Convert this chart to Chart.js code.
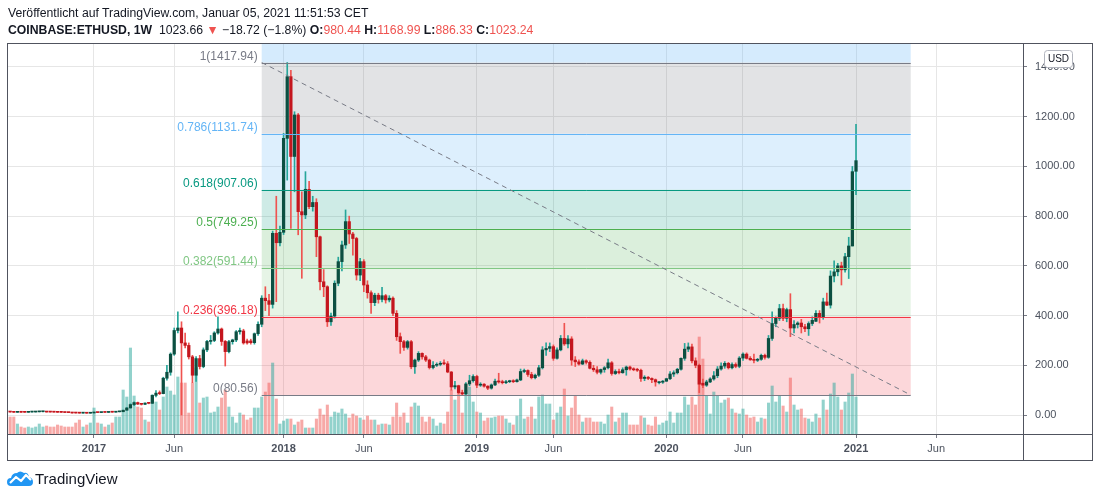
<!DOCTYPE html>
<html>
<head>
<meta charset="utf-8">
<script src="https://cdn.jsdelivr.net/npm/chart.js@4.4.0/dist/chart.umd.min.js"></script>
<style>
html,body{margin:0;padding:0;background:#fff;width:1100px;height:498px;overflow:hidden;font-family:"Liberation Sans",Arial,sans-serif;}
#wrap{position:relative;width:1100px;height:498px;}
#c{position:absolute;left:0;top:0;}
.hdr{position:absolute;left:8px;white-space:nowrap;color:#131722;font-size:13px;line-height:16px;}
#l1{top:5px;}
#l2{top:22px;}
.b{font-weight:bold;}
.r{color:#ef5350;}
#logo{position:absolute;left:7px;top:470px;display:flex;align-items:center;}
#logo span{font-size:15px;color:#131722;margin-left:2px;}
</style>
</head>
<body>
<div id="wrap">
<canvas id="c" width="1100" height="498"></canvas>
<div class="hdr" id="l1">Veröffentlicht auf TradingView.com, Januar 05, 2021 11:51:53 CET</div>
<div class="hdr" id="l2"><span class="b">COINBASE:ETHUSD, 1W</span>&nbsp; 1023.66 <span class="r">▼</span> −18.72 (−1.8%) <span class="b">O:</span><span class="r">980.44</span> <span class="b">H:</span><span class="r">1168.99</span> <span class="b">L:</span><span class="r">886.33</span> <span class="b">C:</span><span class="r">1023.24</span></div>
<div id="logo"><svg width="26" height="17" viewBox="0 0 26 17"><path d="M4 16 Q0 16 0 12 Q0 8 4 8 Q5 3 10 3 Q13 0 17 3 Q21 2 22 7 Q26 8 26 12 Q26 16 22 16 Z" fill="#2196f3"/><polyline points="3,13 9,7 14,11 19,5 24,10" stroke="#fff" stroke-width="2.2" fill="none" stroke-linejoin="round"/></svg><span>TradingView</span></div>
</div>
<script>
// ---------- DATA (weekly candles, COINBASE:ETHUSD) ----------
const firstWeek = '2016-07-18';
const opens = [
 14.3,12.6,11.9,10.9,11.2,11.0,10.9,11.9,12.0,12.7,
 13.2,13.3,11.9,11.8,11.4,10.9,10.7,10.0,9.6,8.1,
 7.9,7.5,7.8,7.2,8.2,10.3,9.8,10.6,10.5,11.4,
 11.3,12.8,13.1,19.3,28.5,42,50,44,43,48,
 47,79,90,86,148,172,245,340,350,290,
 280,234,160,227,195,262,296,300,330,346,
 296,255,295,302,335,338,298,298,291,327,
 365,470,460,445,731,693,735,1113,1361,1040,
 1207,818,805,908,838,855,717,536,516,375,
 398,530,617,684,778,728,710,563,617,523,
 492,452,482,465,480,463,470,409,315,295,
 272,295,194,221,248,234,221,191,200,204,
 208,206,173,113,118,90,85,125,138,155,
 120,124,116,108,121,136,133,130,134,137,
 134,141,175,179,163,150,160,190,262,268,
 275,228,262,308,286,306,221,214,205,218,
 212,188,182,172,183,190,210,167,175,170,
 182,193,185,182,180,147,152,147,142,130,
 132,136,146,165,170,184,228,265,274,218,
 200,128,120,133,145,158,185,197,208,190,
 203,196,229,245,228,222,220,224,240,232,
 308,368,389,428,389,424,350,364,370,355,
 347,368,377,409,395,455,442,559,576,600,
 584,637,680,980.44];
const highs = [
 14.8,13.0,12.2,11.6,11.4,11.3,12.1,12.2,12.9,13.5,
 13.6,13.4,12.1,12.0,11.6,11.1,10.9,10.2,9.8,8.6,
 8.5,8.1,7.9,8.4,11.2,10.6,10.8,10.8,11.6,11.9,
 13.2,13.6,19.9,30.0,45,53,52,46,49,51,
 81,98,97,152,200,250,350,415,375,330,
 290,240,235,240,270,300,320,335,395,350,
 300,300,305,340,350,345,305,305,330,375,
 480,516,485,740,880,760,1133,1418,1387,1220,
 1213,898,979,940,880,870,720,585,520,410,
 540,635,700,825,800,735,715,630,625,540,
 500,490,490,514,485,480,475,420,330,300,
 300,300,225,255,250,240,225,215,210,215,
 222,215,175,135,120,100,130,160,162,160,
 130,126,118,125,145,168,140,140,140,142,
 145,185,185,182,172,165,200,275,290,290,
 282,270,320,369,320,315,235,222,225,222,
 218,200,195,185,195,225,215,182,185,190,
 197,197,190,188,185,158,155,150,145,134,
 139,148,175,178,188,230,288,290,285,230,
 205,145,140,150,175,195,210,215,212,210,
 210,235,250,250,235,245,228,245,245,320,
 415,395,445,446,430,488,380,375,385,365,
 375,395,420,420,470,490,580,620,610,615,
 650,715,1000,1168.99];
const lows = [
 11.9,11.5,10.3,10.6,10.8,10.6,10.8,11.6,11.8,12.5,
 12.9,11.6,11.6,11.2,10.6,10.5,9.7,9.3,7.6,7.7,
 7.3,7.4,6.9,7.1,8.0,9.6,9.7,10.3,10.4,11.1,
 11.2,12.5,13.0,18.8,27.5,38,42,40,42,45,
 46,73,82,85,140,160,240,330,0.1,270,
 225,130,135,185,190,255,285,295,325,280,
 197,250,285,295,325,285,285,285,285,320,
 355,420,400,430,456,680,726,945,751,898,
 725,550,790,830,820,637,503,476,356,360,
 390,520,580,670,690,643,543,540,496,470,
 409,440,450,455,450,455,400,300,248,260,
 265,186,167,215,225,215,185,185,195,198,
 202,170,100,105,85,80.56,82,118,132,110,
 115,112,102,104,118,128,125,126,130,130,
 132,138,170,155,145,145,155,185,240,255,
 220,225,258,280,270,200,195,200,203,205,
 185,175,165,165,172,185,160,163,165,168,
 160,180,178,175,135,138,142,130,116,125,
 127,135,142,155,165,180,220,255,210,190,
 90,110,115,130,140,150,180,188,185,185,
 190,190,220,225,220,210,215,220,225,228,
 300,355,380,380,375,315,330,350,330,335,
 320,360,375,370,385,440,430,535,560,523,
 575,549,680,886.33];
const closes = [
 12.6,11.9,10.9,11.2,11.0,10.9,11.9,12.0,12.7,13.2,
 13.3,11.9,11.8,11.4,10.9,10.7,10.0,9.6,8.1,7.9,
 7.5,7.8,7.2,8.2,10.3,9.8,10.6,10.5,11.4,11.3,
 12.8,13.1,19.3,28.5,42,50,44,43,48,47,
 79,88,86,148,172,245,340,350,290,280,
 234,160,227,195,262,296,300,330,346,296,
 255,295,302,335,340,290,290,291,327,365,
 470,460,445,731,693,735,1113,1361,1040,1207,
 818,805,908,838,855,717,536,516,375,398,
 530,617,684,778,728,710,563,617,523,492,
 452,482,465,480,463,470,409,315,295,272,
 295,194,221,248,234,221,191,200,204,208,
 206,173,113,118,90,85,125,138,155,120,
 124,116,108,121,136,133,130,134,137,134,
 141,175,179,163,150,160,190,262,268,275,
 228,262,308,286,306,221,214,205,218,212,
 188,182,172,183,190,210,167,175,170,182,
 193,185,182,180,147,152,147,142,133,132,
 136,146,165,170,184,228,265,274,218,200,
 124,120,133,145,158,185,197,208,190,203,
 196,229,245,228,222,220,224,240,232,308,
 368,389,428,389,424,350,364,370,355,347,
 368,381,409,395,455,442,559,576,600,584,
 637,680,979,1023.24];
// relative weekly volume (arbitrary units)
const volumes = [
 14,17,17,10,7,6,7,6,7,10,
 7,8,7,7,9,8,7,7,7,11,
 14,7,9,11,26,11,10,7,9,11,
 17,17,44,37,86,38,27,26,14,12,
 39,32,24,37,47,43,39,57,51,51,
 21,51,66,31,36,37,21,22,27,36,
 44,27,17,11,21,19,14,16,26,26,
 37,42,51,71,35,10,13,15,15,9,
 12,14,6,6,6,15,25,19,29,17,
 22,21,25,20,16,20,18,16,14,18,
 14,14,9,10,10,9,17,31,17,21,
 11,27,31,28,17,12,17,15,8,11,
 10,22,44,34,41,21,44,47,32,22,
 21,13,16,16,17,18,18,15,11,9,
 18,35,15,17,27,15,37,39,30,30,
 14,21,27,45,18,26,38,19,12,16,
 16,12,12,12,10,19,27,12,16,21,
 21,9,9,9,18,16,9,8,17,9,
 11,13,22,11,21,21,37,29,37,29,
 97,75,38,20,42,38,31,34,36,25,
 21,20,25,19,16,17,12,16,15,31,
 48,32,38,28,22,56,29,24,25,16,
 15,12,20,16,34,24,40,51,37,24,
 32,41,60,37];
const tickDates  = ['2017-01-02','2017-06-05','2018-01-01','2018-06-04','2019-01-07','2019-06-03','2020-01-06','2020-06-01','2021-01-04','2021-06-07'];
const tickLabels = ['2017','Jun','2018','Jun','2019','Jun','2020','Jun','2021','Jun'];
const priceTicks = [0,200,400,600,800,1000,1200,1400];
// Fibonacci retracement drawing
const fibLevels = [1, 0.786, 0.618, 0.5, 0.382, 0.236, 0];
const fibPrices = [1417.94, 1131.74, 907.06, 749.25, 591.44, 396.18, 80.56];
const fibExtPrice = 2244.43; // 1.618 level (outside the view)
const fibStartDate = '2017-11-20';
const fibEndDate = '2021-04-19';

// ---------- header fit ----------
(function(){
  const l1 = document.getElementById('l1'), l2 = document.getElementById('l2');
  const w = l2.getBoundingClientRect().width;
  const fs = 13 * 526 / w;
  l1.style.fontSize = fs + 'px'; l2.style.fontSize = fs + 'px';
})();

// ---------- helpers ----------
const WEEK = 7*24*3600*1000, BASE = Date.UTC(2017,0,2);
function weekIdx(s){const [y,m,d]=s.split('-').map(Number);return (Date.UTC(y,m-1,d)-BASE)/WEEK;}
const w0 = weekIdx(firstWeek);
const xs = opens.map((_,i)=>w0+i);
const tickWeeks = tickDates.map(weekIdx);
const fibX0 = weekIdx(fibStartDate), fibX1 = weekIdx(fibEndDate);
const fibColors = ['#787b86','#64b5f6','#089981','#4caf50','#81c784','#f23645','#787b86'];
const fibFills  = ['rgba(100,181,246,0.27)','rgba(120,123,134,0.21)','rgba(100,181,246,0.22)','rgba(8,153,129,0.2)','rgba(76,175,80,0.2)','rgba(129,199,132,0.2)','rgba(242,54,69,0.2)'];
const up = i => closes[i] >= opens[i];

const FONT = '"Liberation Sans", Arial, sans-serif';

const fibPlugin = {
  id:'fib',
  beforeDatasetsDraw(chart){
    const {ctx, chartArea:a, scales:{x,y}} = chart;
    const x0 = x.getPixelForValue(fibX0), x1 = x.getPixelForValue(fibX1);
    const bounds = [fibExtPrice].concat(fibPrices);
    ctx.save();
    ctx.beginPath(); ctx.rect(a.left,a.top,a.right-a.left,a.bottom-a.top); ctx.clip();
    for(let i=0;i<bounds.length-1;i++){
      const ya = y.getPixelForValue(bounds[i]), yb = y.getPixelForValue(bounds[i+1]);
      ctx.fillStyle = fibFills[i]; ctx.fillRect(x0, ya, x1-x0, yb-ya);
    }
    ctx.restore();
  },
  afterDatasetsDraw(chart){
    const {ctx, chartArea:a, scales:{x,y}} = chart;
    const x0 = x.getPixelForValue(fibX0), x1 = x.getPixelForValue(fibX1);
    ctx.save();
    ctx.beginPath(); ctx.rect(a.left,a.top,a.right-a.left,a.bottom-a.top); ctx.clip();
    ctx.lineWidth = 1;
    fibPrices.forEach((p,i)=>{
      const yy = Math.round(y.getPixelForValue(p))+0.5;
      ctx.strokeStyle = fibColors[i];
      ctx.beginPath(); ctx.moveTo(x0,yy); ctx.lineTo(x1,yy); ctx.stroke();
      ctx.fillStyle = fibColors[i];
      ctx.font = '12px '+FONT;
      ctx.textAlign = 'right'; ctx.textBaseline = 'bottom';
      ctx.fillText(fibLevels[i]+'('+p.toFixed(2)+')', x0-4, yy-1);
    });
    ctx.strokeStyle = '#787b86'; ctx.setLineDash([5,4]);
    ctx.beginPath();
    ctx.moveTo(x0, y.getPixelForValue(fibPrices[0]));
    ctx.lineTo(x1, y.getPixelForValue(fibPrices[fibPrices.length-1]));
    ctx.stroke();
    ctx.restore();
  },
  afterDraw(chart){
    const ctx = chart.ctx;
    ctx.save();
    ctx.strokeStyle = '#50535e'; ctx.lineWidth = 1;
    ctx.strokeRect(7.5, 43.5, 1085, 417);
    ctx.beginPath();
    ctx.moveTo(1023.5, 43.5); ctx.lineTo(1023.5, 460.5);
    ctx.moveTo(7.5, 434.5); ctx.lineTo(1092.5, 434.5);
    ctx.stroke();
    // currency badge
    ctx.fillStyle = '#fff'; ctx.strokeStyle = '#b2b5be';
    ctx.beginPath(); ctx.roundRect(1044.5, 50.5, 28, 17, 3); ctx.fill(); ctx.stroke();
    ctx.fillStyle = '#131722'; ctx.font = '10px '+FONT;
    ctx.textAlign = 'center'; ctx.textBaseline = 'middle';
    ctx.fillText('USD', 1058.5, 59.5);
    ctx.restore();
  }
};

new Chart(document.getElementById('c'), {
  type:'bar',
  data:{
    datasets:[
      { label:'body', order:1, grouped:false, barThickness:2.6, minBarLength:1,
        data: xs.map((x,i)=>({x, y:[opens[i], closes[i]]})),
        backgroundColor: xs.map((_,i)=> up(i) ? '#0c4f41' : '#c4161e'),
        borderWidth:0, yAxisID:'y' },
      { label:'wick', order:2, grouped:false, barThickness:1,
        data: xs.map((x,i)=>({x, y:[lows[i], highs[i]]})),
        backgroundColor: xs.map((_,i)=> up(i) ? '#26a69a' : '#ef5350'),
        borderWidth:0, yAxisID:'y' },
      { label:'volume', order:3, grouped:false, barThickness:2.4,
        data: xs.map((x,i)=>({x, y:volumes[i]})),
        backgroundColor: xs.map((_,i)=> up(i) ? 'rgba(38,166,154,0.5)' : 'rgba(239,83,80,0.5)'),
        borderWidth:0, yAxisID:'yv' }
    ]
  },
  options:{
    responsive:false, animation:false, devicePixelRatio:1,
    layout:{padding:{left:7, top:44, right:7, bottom:37}},
    plugins:{legend:{display:false}, tooltip:{enabled:false}},
    scales:{
      x:{ type:'linear', min:-23.86, max:254.8, offset:false,
          grid:{offset:false, color:'#e6e6e6', tickLength:4, tickColor:'#787b86'},
          border:{display:false},
          afterBuildTicks(s){ s.ticks = tickWeeks.map(v=>({value:v})); },
          afterFit(s){ s.height = 27; },
          ticks:{ autoSkip:false, maxRotation:0, padding:4, color:'#4c525e',
            callback:(v,i)=>tickLabels[i],
            font:(c)=>({family:FONT, size:11, weight: /^\d/.test(tickLabels[c.index]||'') ? 'bold':'normal'}) } },
      y:{ type:'linear', position:'right', min:-76.4, max:1492.5,
          grid:{color:'#e6e6e6', tickLength:4, tickColor:'#787b86'},
          border:{display:false},
          afterBuildTicks(s){ s.ticks = priceTicks.map(v=>({value:v})); },
          afterFit(s){ s.width = 70; },
          ticks:{ padding:8, color:'#4c525e', font:{family:FONT, size:11},
            callback:v=>Number(v).toFixed(2) } },
      yv:{ type:'linear', display:false, min:0, max:390 }
    }
  },
  plugins:[fibPlugin]
});
</script>
</body>
</html>
